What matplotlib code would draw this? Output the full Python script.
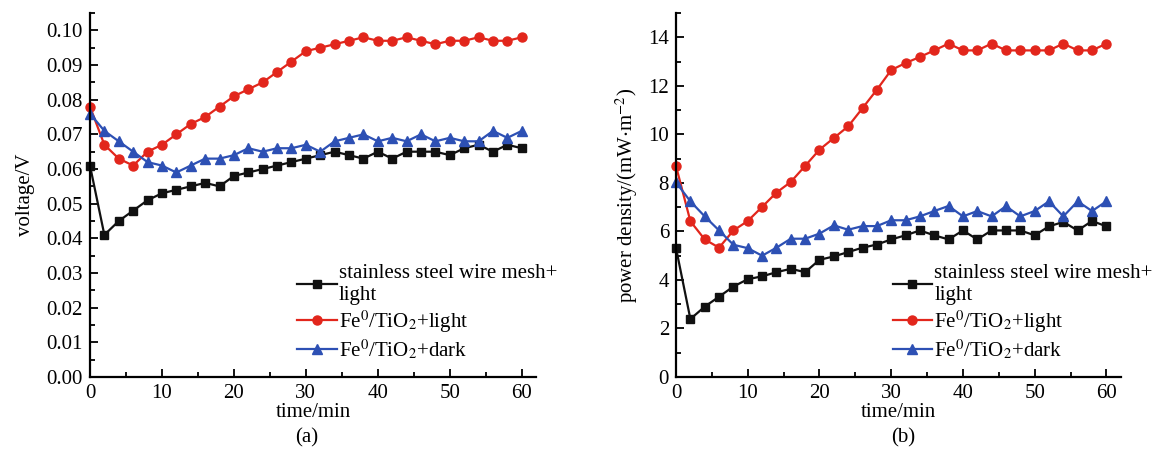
import matplotlib
matplotlib.use("Agg")
import matplotlib.pyplot as plt
from matplotlib.ticker import MultipleLocator, FormatStrFormatter

plt.rcParams['font.family'] = ['Liberation Serif', 'DejaVu Serif']
plt.rcParams['mathtext.fontset'] = 'stix'
plt.rcParams['font.size'] = 15

time = list(range(0, 61, 2))

voltage_steel = [0.061, 0.041, 0.045, 0.048, 0.051, 0.053, 0.054, 0.055, 0.056, 0.055,
                 0.058, 0.059, 0.060, 0.061, 0.062, 0.063, 0.064, 0.065, 0.064, 0.063,
                 0.065, 0.063, 0.065, 0.065, 0.065, 0.064, 0.066, 0.067, 0.065, 0.067, 0.066]
voltage_light = [0.078, 0.067, 0.063, 0.061, 0.065, 0.067, 0.070, 0.073, 0.075, 0.078,
                 0.081, 0.083, 0.085, 0.088, 0.091, 0.094, 0.095, 0.096, 0.097, 0.098,
                 0.097, 0.097, 0.098, 0.097, 0.096, 0.097, 0.097, 0.098, 0.097, 0.097, 0.098]
voltage_dark = [0.076, 0.071, 0.068, 0.065, 0.062, 0.061, 0.059, 0.061, 0.063, 0.063,
                0.064, 0.066, 0.065, 0.066, 0.066, 0.067, 0.065, 0.068, 0.069, 0.070,
                0.068, 0.069, 0.068, 0.070, 0.068, 0.069, 0.068, 0.068, 0.071, 0.069, 0.071]

power_steel = [5.31, 2.39, 2.90, 3.31, 3.73, 4.03, 4.15, 4.32, 4.46, 4.32,
               4.83, 4.97, 5.15, 5.33, 5.46, 5.67, 5.84, 6.04, 5.84, 5.67,
               6.04, 5.67, 6.04, 6.04, 6.04, 5.84, 6.21, 6.39, 6.04, 6.43, 6.21]
power_light = [8.69, 6.42, 5.67, 5.33, 6.04, 6.43, 7.01, 7.60, 8.04, 8.70,
               9.37, 9.85, 10.33, 11.08, 11.84, 12.65, 12.94, 13.19, 13.46, 13.74,
               13.46, 13.46, 13.74, 13.46, 13.46, 13.46, 13.46, 13.74, 13.46, 13.46, 13.74]
power_dark = [8.02, 7.24, 6.62, 6.04, 5.45, 5.31, 5.00, 5.33, 5.70, 5.70,
              5.91, 6.25, 6.07, 6.22, 6.22, 6.46, 6.46, 6.62, 6.84, 7.05,
              6.62, 6.84, 6.62, 7.04, 6.62, 6.84, 7.24, 6.62, 7.24, 6.84, 7.24]

labels = ['stainless steel wire mesh+\nlight',
          r'Fe$^{0}$/TiO$_{2}$+light',
          r'Fe$^{0}$/TiO$_{2}$+dark']
colors = ['#111111', '#e2261c', '#2d50b4']
markers = ['s', 'o', '^']
msizes = [5.5, 6.5, 7]

fig = plt.figure(figsize=(11.58, 4.59), dpi=100)
axA = fig.add_axes([0.0777, 0.1786, 0.3853, 0.793])
axB = fig.add_axes([0.5838, 0.1786, 0.3840, 0.793])


def style(ax):
    for s in ['top', 'right']:
        ax.spines[s].set_visible(False)
    for s in ['left', 'bottom']:
        ax.spines[s].set_linewidth(1.6)
    ax.tick_params(which='both', direction='in', width=1.3)
    ax.tick_params(which='major', length=6, labelsize=15, pad=5)
    ax.tick_params(which='minor', length=3.5)
    ax.xaxis.set_major_locator(MultipleLocator(10))
    ax.xaxis.set_minor_locator(MultipleLocator(5))
    ax.set_xlim(0, 62)


for ax, series in [(axA, [voltage_steel, voltage_light, voltage_dark]),
                   (axB, [power_steel, power_light, power_dark])]:
    for y, c, m, ms, lab in zip(series, colors, markers, msizes, labels):
        ax.plot(time, y, color=c, marker=m, markersize=ms, linewidth=1.6,
                label=lab, clip_on=False)
    style(ax)

axA.set_ylim(0, 0.105)
axA.yaxis.set_major_locator(MultipleLocator(0.01))
axA.yaxis.set_minor_locator(MultipleLocator(0.005))
axA.yaxis.set_major_formatter(FormatStrFormatter('%.2f'))
axA.set_ylabel('voltage/V', fontsize=15, labelpad=8)
axA.set_xlabel('time/min', fontsize=15, labelpad=0)

axB.set_ylim(0, 15)
axB.yaxis.set_major_locator(MultipleLocator(2))
axB.yaxis.set_minor_locator(MultipleLocator(1))
axB.set_ylabel(r'power density/(mW$\cdot$m$^{-2}$)', fontsize=15, labelpad=6)
axB.set_xlabel('time/min', fontsize=15, labelpad=0)

for ax, x0 in [(axA, 0.465), (axB, 0.487)]:
    ax.legend(loc='upper left', bbox_to_anchor=(x0, 0.31), frameon=False,
              fontsize=15, handlelength=1.9, handletextpad=0.1,
              labelspacing=0.15, borderpad=0, borderaxespad=0)

fig.text(0.2645, 0.035, '(a)', ha='center', fontsize=15)
fig.text(0.78, 0.035, '(b)', ha='center', fontsize=15)

fig.savefig('out.png', dpi=100)
